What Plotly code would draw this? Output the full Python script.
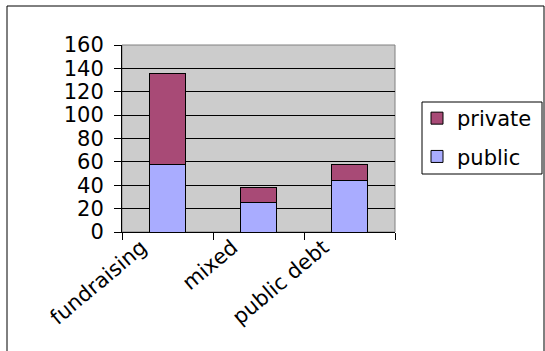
import plotly.graph_objects as go

categories = ["fundraising", "mixed", "public debt"]
public = [58, 25, 44]
private = [78, 13, 14]
y_ticks = [0, 20, 40, 60, 80, 100, 120, 140, 160]

FONT = "DejaVu Sans, sans-serif"

L, R, T, B = 122, 150, 45, 119
W, H = 545, 351
pw = W - L - R
ph = H - T - B

def px(x):
    return (x - L) / pw

def py(y):
    return (H - B - y) / ph

fig = go.Figure()
fig.add_trace(go.Bar(x=categories, y=public, name="public", legendgroup="a", legendrank=2,
                     marker=dict(color="#A9ACFF", line=dict(color="black", width=1))))
fig.add_trace(go.Bar(x=categories, y=private, name="private", legendgroup="b", legendrank=1,
                     marker=dict(color="#A84A76", line=dict(color="black", width=1))))

fig.update_layout(
    width=W, height=H,
    margin=dict(l=L, r=R, t=T, b=B, autoexpand=False),
    barmode="stack", bargap=0.6,
    paper_bgcolor="white", plot_bgcolor="#CCCCCC",
    font=dict(family=FONT, color="black"),
    legend=dict(x=px(417), y=py(98), xanchor="left", yanchor="top",
                borderwidth=0, bgcolor="rgba(0,0,0,0)",
                font=dict(size=21, family=FONT), traceorder="grouped",
                tracegroupgap=8),
    showlegend=True,
    xaxis=dict(type="category", tickson="boundaries", ticks="outside", ticklen=7,
               tickcolor="black", showline=True, linecolor="black", linewidth=1,
               showgrid=False, tickangle=-40, tickfont=dict(size=21, family=FONT),
               ticklabelshift=-26, ticklabelstandoff=-6),
    yaxis=dict(range=[0, 160], tickvals=y_ticks, ticks="outside", ticklen=7,
               tickcolor="black", showline=True, linecolor="black", linewidth=1,
               showgrid=True, gridcolor="black", gridwidth=1, zeroline=False,
               tickfont=dict(size=21, family=FONT), ticklabelstandoff=6),
    shapes=[
        dict(type="rect", xref="paper", yref="paper", x0=0, x1=1, y0=0, y1=1,
             line=dict(color="#808080", width=1), layer="below"),
        dict(type="rect", xref="paper", yref="paper", x0=px(7), x1=px(544),
             y0=py(6), y1=py(352), line=dict(color="black", width=1)),
        dict(type="rect", xref="paper", yref="paper", x0=px(422), x1=px(542),
             y0=py(102), y1=py(174), line=dict(color="black", width=1),
             fillcolor="white", layer="below"),
    ],
)

fig.write_html("out.html")
